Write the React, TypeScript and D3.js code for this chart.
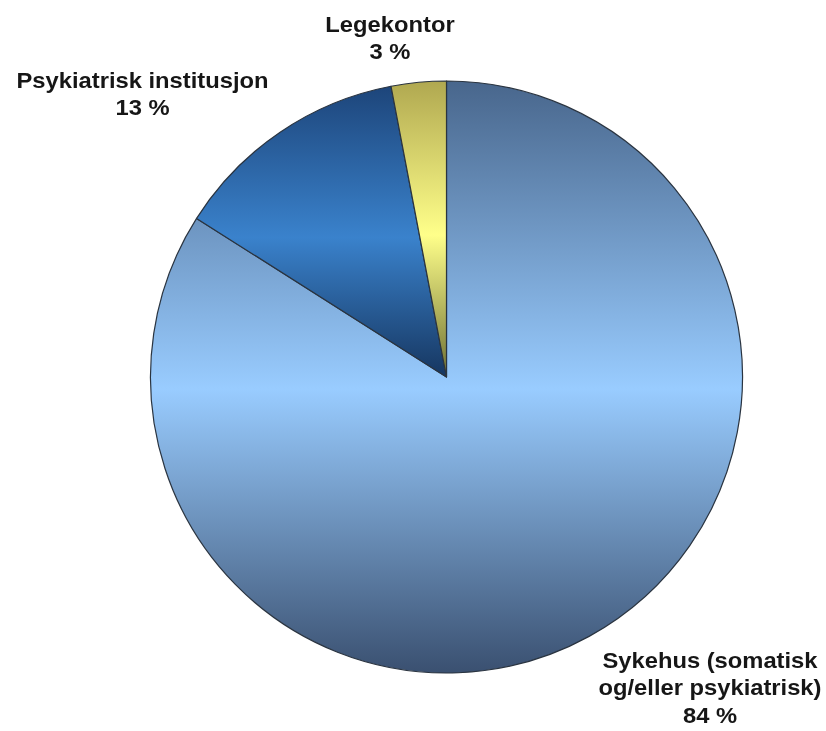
import { useEffect, useRef } from 'react'
import * as d3 from 'd3'

const CATEGORIES = ['Sykehus (somatisk og/eller psykiatrisk)', 'Psykiatrisk institusjon', 'Legekontor']
const VALUES = [84, 13, 3]
const LABEL_LINES = [
  ['Sykehus (somatisk', 'og/eller psykiatrisk)', '84 %'],
  ['Psykiatrisk institusjon', '13 %'],
  ['Legekontor', '3 %'],
]
// vertical gradient stops per slice: top, middle, bottom
const GRADIENTS = [
  ['#48668c', '#99ccff', '#3a5070'],
  ['#1d457a', '#3a82cc', '#163660'],
  ['#b0a850', '#ffff8a', '#6e7034'],
]
// label anchor points (center of text block, first baseline)
const LABEL_POS: [number, number][] = [
  [710, 668],
  [142.5, 88],
  [390, 32],
]

export default function App() {
  const svgRef = useRef<SVGSVGElement | null>(null)

  useEffect(() => {
    if (!svgRef.current) return
    document.body.style.margin = '0'
    document.body.style.overflow = 'hidden'

    const width = 826
    const height = 731
    const cx = 446.5
    const cy = 377
    const radius = 296

    const svg = d3.select(svgRef.current)
    svg.selectAll('*').remove()
    svg.attr('width', width).attr('height', height).attr('viewBox', `0 0 ${width} ${height}`)

    svg.append('rect').attr('width', width).attr('height', height).attr('fill', '#ffffff')

    const defs = svg.append('defs')
    GRADIENTS.forEach((stops, i) => {
      const grad = defs.append('linearGradient')
        .attr('id', `slice-grad-${i}`)
        .attr('x1', 0).attr('y1', 0).attr('x2', 0).attr('y2', 1)
      grad.append('stop').attr('offset', '0%').attr('stop-color', stops[0])
      grad.append('stop').attr('offset', '52%').attr('stop-color', stops[1])
      grad.append('stop').attr('offset', '100%').attr('stop-color', stops[2])
    })

    const blur = defs.append('filter').attr('id', 'soft')
    blur.append('feGaussianBlur').attr('stdDeviation', 0.4)

    const pie = d3.pie<number>().sort(null).value(d => d)
    const arcs = pie(VALUES)
    const arc = d3.arc<d3.PieArcDatum<number>>().innerRadius(0).outerRadius(radius)

    const g = svg.append('g').attr('transform', `translate(${cx}, ${cy})`)

    g.selectAll('path.slice')
      .data(arcs)
      .join('path')
      .attr('class', 'slice')
      .attr('d', arc)
      .attr('fill', (_d, i) => `url(#slice-grad-${i})`)
      .attr('stroke', '#2a3440')
      .attr('stroke-width', 1.2)
      .attr('stroke-linejoin', 'round')

    // labels (source font is slightly wider than Liberation Sans, so stretch a bit)
    const labels = svg.append('g')
      .attr('font-family', '"Liberation Sans", Arial, sans-serif')
      .attr('font-weight', 'bold')
      .attr('font-size', 22)
      .attr('fill', '#151515')
      .attr('text-anchor', 'middle')
      .attr('filter', 'url(#soft)')

    CATEGORIES.forEach((_c, i) => {
      const [lx, ly] = LABEL_POS[i]
      const t = labels.append('text')
        .attr('transform', `translate(${lx}, ${ly}) scale(1.08, 1)`)
      LABEL_LINES[i].forEach((line, j) => {
        t.append('tspan').attr('x', 0).attr('y', j * 27.5).text(line)
      })
    })
  }, [])

  return (
    <div style={{ position: 'absolute', left: 0, top: 0 }}>
      <svg ref={svgRef} style={{ display: 'block' }} />
    </div>
  )
}
